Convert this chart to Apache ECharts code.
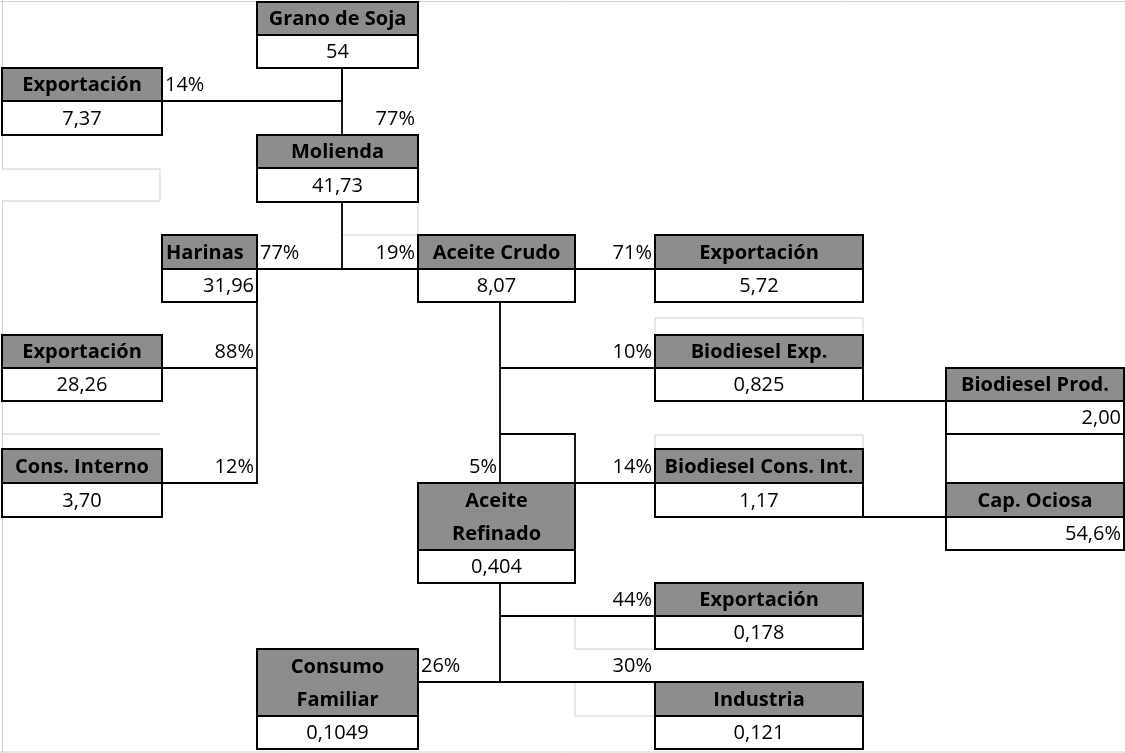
<!DOCTYPE html>
<html><head><meta charset="utf-8">
<script src="https://cdn.jsdelivr.net/npm/echarts@6/dist/echarts.min.js"></script>
<style>html,body{margin:0;padding:0;background:#fff}#c{width:1125px;height:753px}</style>
</head><body><div id="c"></div>
<script>
// ---------------- data ----------------
const nodeNames = ['Grano de Soja','Exportación','Molienda','Harinas','Aceite Crudo','Exportación',
  'Exportación','Biodiesel Exp.','Biodiesel Prod.','Cons. Interno','Biodiesel Cons. Int.',
  'Aceite\nRefinado','Cap. Ociosa','Exportación','Consumo\nFamiliar','Industria'];
const nodeValues = [54, 7.37, 41.73, 31.96, 8.07, 5.72, 28.26, 0.825, 2.00, 3.70, 1.17, 0.404, 54.6, 0.178, 0.1049, 0.121];
const valueDecimals = [0, 2, 2, 2, 2, 2, 2, 3, 2, 2, 2, 3, 1, 3, 4, 3];
const valueUnits = ['', '', '', '', '', '', '', '', '', '', '', '', '%', '', '', ''];
const flowSources = [0, 0, 2, 2, 4, 3, 3, 4, 4, 4, 11, 11, 11];
const flowTargets = [1, 2, 3, 4, 5, 6, 9, 7, 11, 10, 13, 14, 15];
const flowShares  = [14, 77, 77, 19, 71, 88, 12, 10, 5, 14, 44, 26, 30];
const extraSources = [7, 10];
const extraTargets = [8, 12];

// ---------------- layout (sheet grid) ----------------
const colX = [2, 162, 257, 342, 418, 500, 575, 655, 863, 946, 1124];
const rowY = [2, 35, 68, 101, 135, 168, 202, 235, 269, 302, 335, 368, 401, 434, 449, 483, 517, 550, 583, 616, 649, 682, 716, 749];
// [colStart, colEnd, headerRowStart, headerRowEnd, headerAlign, valueAlign]
const nodeLayout = [
  [2, 4, 0, 1, 'center', 'center'],
  [0, 1, 2, 3, 'center', 'center'],
  [2, 4, 4, 5, 'center', 'center'],
  [1, 2, 7, 8, 'left', 'right'],
  [4, 6, 7, 8, 'center', 'center'],
  [7, 8, 7, 8, 'center', 'center'],
  [0, 1, 10, 11, 'center', 'center'],
  [7, 8, 10, 11, 'center', 'center'],
  [9, 10, 11, 12, 'center', 'right'],
  [0, 1, 14, 15, 'center', 'center'],
  [7, 8, 14, 15, 'center', 'center'],
  [4, 6, 15, 17, 'center', 'center'],
  [9, 10, 15, 16, 'center', 'right'],
  [7, 8, 18, 19, 'center', 'center'],
  [2, 4, 20, 22, 'center', 'center'],
  [7, 8, 21, 22, 'center', 'center']
];
const spacerBoxes = [[9, 10, 13, 15]];
const flowPaths = [
  [[3, 2], [3, 3], [1, 3]],
  [[3, 2], [3, 4]],
  [[3, 6], [3, 8], [2, 8]],
  [[3, 8], [4, 8]],
  [[6, 8], [7, 8]],
  [[2, 9], [2, 11], [1, 11]],
  [[2, 11], [2, 15], [1, 15]],
  [[5, 9], [5, 11], [7, 11]],
  [[5, 11], [5, 15]],
  [[5, 13], [6, 13], [6, 15], [7, 15]],
  [[5, 18], [5, 19], [7, 19]],
  [[5, 19], [5, 21], [4, 21]],
  [[5, 21], [7, 21]]
];
const flowLabelPos = [[1, 2, 'left'], [4, 3, 'right'], [2, 7, 'left'], [4, 7, 'right'], [7, 7, 'right'],
  [2, 10, 'right'], [2, 14, 'right'], [7, 10, 'right'], [5, 14, 'right'], [7, 14, 'right'],
  [7, 18, 'right'], [4, 20, 'left'], [7, 20, 'right']];
const extraPaths = [[[8, 12], [9, 12]], [[8, 16], [9, 16]]];
const sheetLines = [
  [0, 1.5, 1125, 1.5], [2.5, 0, 2.5, 169], [2.5, 201, 2.5, 753],
  [2, 169, 160, 169], [2, 201, 160, 201], [160, 169, 160, 201], [2, 434, 160, 434],
  [418, 202, 418, 235], [342, 235, 418, 235],
  [655, 318, 863, 318], [655, 318, 655, 335], [863, 318, 863, 335],
  [655, 435, 863, 435], [655, 435, 655, 449], [863, 435, 863, 449],
  [575, 616, 575, 649], [575, 649, 655, 649], [575, 682, 575, 716], [575, 716, 655, 716],
  [0, 752, 1125, 752]
];

const FONT = '"Open Sans", "Noto Sans", sans-serif';
const HEADER_FILL = '#8d8d8d';
function fmt(v, d, u) { return v.toFixed(d).replace('.', ',') + u; }

const chart = echarts.init(document.getElementById('c'), null, { renderer: 'canvas' });

function pt(api, c, r) { return api.coord([colX[c], rowY[r]]); }

const option = {
  animation: false,
  grid: { left: 0, right: 0, top: 0, bottom: 0 },
  xAxis: { type: 'value', min: 0, max: 1125, show: false },
  yAxis: { type: 'value', min: 0, max: 753, inverse: true, show: false },
  series: [
    {
      type: 'custom', name: 'sheet', clip: false, silent: true,
      data: sheetLines.map((l, i) => [i]),
      renderItem: function (params, api) {
        const l = sheetLines[params.dataIndex];
        const a = api.coord([l[0], l[1]]), b = api.coord([l[2], l[3]]);
        return { type: 'line', shape: { x1: a[0], y1: a[1], x2: b[0], y2: b[1] },
          style: { stroke: '#d0d0d0', lineWidth: 1 } };
      }
    },
    {
      type: 'custom', name: 'flows', clip: false, silent: true,
      data: flowShares.map((s, i) => ({ name: nodeNames[flowSources[i]] + ' → ' + nodeNames[flowTargets[i]], value: [i, s] })),
      renderItem: function (params, api) {
        const i = params.dataIndex;
        const pts = flowPaths[i].map(p => pt(api, p[0], p[1]));
        const lp = flowLabelPos[i];
        const x = colX[lp[0]] + (lp[2] === 'left' ? 3 : -3);
        const yMid = (rowY[lp[1]] + rowY[lp[1] + 1]) / 2 + 1;
        const tp = api.coord([x, yMid]);
        return { type: 'group', children: [
          { type: 'polyline', shape: { points: pts }, style: { stroke: '#000', lineWidth: 1.8, fill: null } },
          { type: 'text', style: { text: flowShares[i] + '%', x: tp[0], y: tp[1], font: '20px ' + FONT,
            fill: '#000', align: lp[2], verticalAlign: 'middle' } }
        ] };
      }
    },
    {
      type: 'custom', name: 'links', clip: false, silent: true,
      data: extraSources.map((s, i) => ({ name: nodeNames[s] + ' → ' + nodeNames[extraTargets[i]], value: [i] })),
      renderItem: function (params, api) {
        const pts = extraPaths[params.dataIndex].map(p => pt(api, p[0], p[1]));
        return { type: 'polyline', shape: { points: pts }, style: { stroke: '#000', lineWidth: 1.8, fill: null } };
      }
    },
    {
      type: 'custom', name: 'spacers', clip: false, silent: true,
      data: spacerBoxes.map((b, i) => [i]),
      renderItem: function (params, api) {
        const b = spacerBoxes[params.dataIndex];
        const a = pt(api, b[0], b[2]), c = pt(api, b[1], b[3]);
        return { type: 'rect', shape: { x: a[0], y: a[1], width: c[0] - a[0], height: c[1] - a[1] },
          style: { fill: '#fff', stroke: '#000', lineWidth: 1.8 } };
      }
    },
    {
      type: 'custom', name: 'nodes', clip: false, silent: true,
      data: nodeNames.map((n, i) => ({ name: n, value: [i, nodeValues[i]] })),
      renderItem: function (params, api) {
        const i = params.dataIndex;
        const L = nodeLayout[i];
        const h0 = pt(api, L[0], L[2]), h1 = pt(api, L[1], L[3]), v1 = pt(api, L[1], L[3] + 1);
        const w = h1[0] - h0[0];
        const hx = L[4] === 'left' ? h0[0] + 4 : (L[4] === 'right' ? h1[0] - 3 : (h0[0] + h1[0]) / 2);
        const vx = L[5] === 'left' ? h0[0] + 4 : (L[5] === 'right' ? h1[0] - 3 : (h0[0] + h1[0]) / 2);
        return { type: 'group', children: [
          { type: 'rect', shape: { x: h0[0], y: h0[1], width: w, height: h1[1] - h0[1] },
            style: { fill: HEADER_FILL, stroke: '#000', lineWidth: 2 } },
          { type: 'rect', shape: { x: h0[0], y: h1[1], width: w, height: v1[1] - h1[1] },
            style: { fill: '#fff', stroke: '#000', lineWidth: 2 } },
          { type: 'text', style: { text: nodeNames[i], x: hx, y: (h0[1] + h1[1]) / 2 + 1,
            font: 'bold 20px ' + FONT, fill: '#000', align: L[4], verticalAlign: 'middle', lineHeight: 33 } },
          { type: 'text', style: { text: fmt(nodeValues[i], valueDecimals[i], valueUnits[i]), x: vx,
            y: (h1[1] + v1[1]) / 2 + 1, font: '20px ' + FONT, fill: '#000', align: L[5], verticalAlign: 'middle' } }
        ] };
      }
    }
  ]
};
chart.setOption(option);
</script>
</body></html>
